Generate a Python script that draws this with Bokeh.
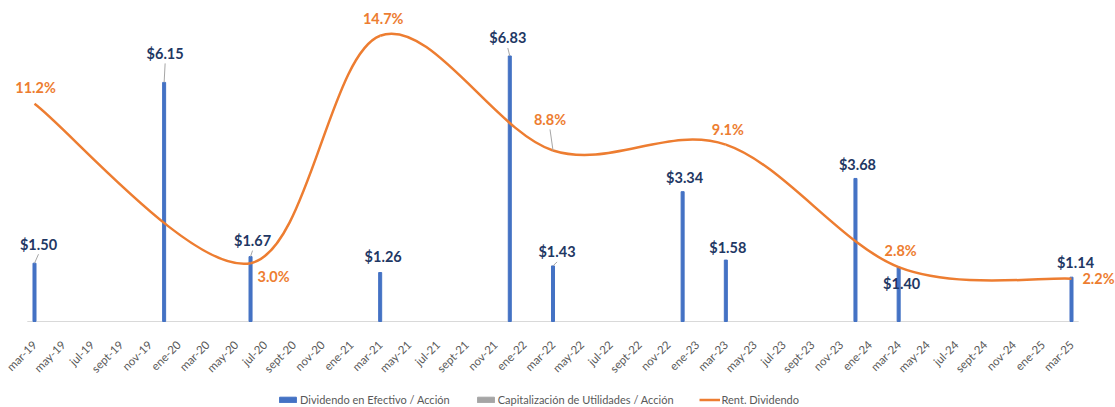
import math
from bokeh.plotting import figure
from bokeh.layouts import column
from bokeh.models import Range1d, FixedTicker, Legend, LegendItem
from bokeh.core.properties import value
from bokeh.embed import file_html
from bokeh.resources import INLINE

# ---------------- data ----------------
fechas_div = ["mar-19", "dic-19", "jun-20", "mar-21", "dic-21", "mar-22",
              "dic-22", "mar-23", "dic-23", "mar-24", "mar-25"]
dividendo = [1.50, 6.15, 1.67, 1.26, 6.83, 1.43, 3.34, 1.58, 3.68, 1.40, 1.14]

fechas_rent = ["mar-19", "jun-20", "mar-21", "mar-22", "mar-23", "mar-24", "mar-25"]
rent = [11.2, 3.0, 14.7, 8.8, 9.1, 2.8, 2.2]

tick_labels = ["mar-19", "may-19", "jul-19", "sept-19", "nov-19",
               "ene-20", "mar-20", "may-20", "jul-20", "sept-20", "nov-20",
               "ene-21", "mar-21", "may-21", "jul-21", "sept-21", "nov-21",
               "ene-22", "mar-22", "may-22", "jul-22", "sept-22", "nov-22",
               "ene-23", "mar-23", "may-23", "jul-23", "sept-23", "nov-23",
               "ene-24", "mar-24", "may-24", "jul-24", "sept-24", "nov-24",
               "ene-25", "mar-25"]

series_names = ["Dividendo en Efectivo / Acción",
                "Capitalización de Utilidades / Acción",
                "Rent. Dividendo"]

# ---------------- layout / style ----------------
meses = {"ene": 1, "feb": 2, "mar": 3, "abr": 4, "may": 5, "jun": 6, "jul": 7,
         "ago": 8, "sept": 9, "sep": 9, "oct": 10, "nov": 11, "dic": 12}


def month_index(s):
    m, y = s.split("-")
    return (2000 + int(y) - 2019) * 12 + meses[m] - 3


FONT = value("Lato")
BLUE = "#4472C4"
GRAY = "#A5A5A5"
ORANGE = "#ED7D31"
NAVY = "#1F3864"
GRAY_TXT = "#595959"

W = 1115
H_MAIN, H_LEG = 385, 22
BASE_PX = 321                   # baseline position from top
FIRST_PX, LAST_PX, SPAN_M = 34, 1071, 72
px_x = (LAST_PX - FIRST_PX) / SPAN_M
px_y = 38.875                   # px per $
px_p = 19.4375                  # px per %

X0 = -FIRST_PX / px_x
X1 = (W - FIRST_PX) / px_x

# label offsets in screen px (dx right, dy up)
div_off = [(4, 19), (1, 29), (2, 16), (3, 16), (-2, 18), (4, 14), (2, 14),
           (2, 13), (2, 14), (3, -16), (4, 15)]
div_leader = [True, True, True, False, True, True, False, False, False, False, False]
rent_off = [(1, 16), (23, -13), (3, 17), (-3, 31), (2, 15), (2, 17), (27, 0)]
rent_leader = [False, False, False, True, False, False, False]

xd = [month_index(s) for s in fechas_div]
xr = [month_index(s) for s in fechas_rent]

p = figure(width=W, height=H_MAIN, x_range=Range1d(X0, X1),
           y_range=Range1d(-1 / px_y, BASE_PX / px_y),
           output_backend="svg", toolbar_location=None, y_axis_location=None,
           min_border_left=0, min_border_right=0, min_border_top=0,
           min_border_bottom=H_MAIN - BASE_PX - 1)
p.extra_y_ranges = {"pct": Range1d(-1 / px_p, BASE_PX / px_p)}
p.xgrid.visible = False
p.ygrid.visible = False
p.outline_line_color = None
p.background_fill_color = "white"

# baseline (category axis span)
p.segment(x0=[-0.5], y0=[0], x1=[SPAN_M + 0.5], y1=[0], line_color="#D9D9D9", line_width=1)

# bars
p.vbar(x=xd, top=dividendo, width=0.21, color=BLUE)

# smoothed line (Excel-like Catmull-Rom bezier)
n = len(xr)
x0s, y0s, x1s, y1s, cx0, cy0, cx1, cy1 = ([] for _ in range(8))
for i in range(n - 1):
    ip = max(i - 1, 0)
    i2 = min(i + 2, n - 1)
    x0s.append(xr[i]); y0s.append(rent[i])
    x1s.append(xr[i + 1]); y1s.append(rent[i + 1])
    cx0.append(xr[i] + (xr[i + 1] - xr[ip]) / 6.0)
    cy0.append(rent[i] + (rent[i + 1] - rent[ip]) / 6.0)
    cx1.append(xr[i + 1] - (xr[i2] - xr[i]) / 6.0)
    cy1.append(rent[i + 1] - (rent[i2] - rent[i]) / 6.0)
p.bezier(x0=x0s, y0=y0s, x1=x1s, y1=y1s, cx0=cx0, cy0=cy0, cx1=cx1, cy1=cy1,
         line_color=ORANGE, line_width=2.5, y_range_name="pct")

# leader lines
lx0, ly0, lx1, ly1 = [], [], [], []
for xi, v, (dx, dy), f in zip(xd, dividendo, div_off, div_leader):
    if f:
        lx0.append(xi); ly0.append(v)
        lx1.append(xi + dx / px_x); ly1.append(v + (dy - 10) / px_y)
p.segment(x0=lx0, y0=ly0, x1=lx1, y1=ly1, line_color="#A6A6A6", line_width=1)
lx0, ly0, lx1, ly1 = [], [], [], []
for xi, v, (dx, dy), f in zip(xr, rent, rent_off, rent_leader):
    if f:
        lx0.append(xi); ly0.append(v)
        lx1.append(xi + dx / px_x); ly1.append(v + (dy - 10) / px_p)
p.segment(x0=lx0, y0=ly0, x1=lx1, y1=ly1, line_color="#A6A6A6", line_width=1,
          y_range_name="pct")

# data labels
p.text(x=[xi + dx / px_x for xi, (dx, dy) in zip(xd, div_off)],
       y=[v + dy / px_y for v, (dx, dy) in zip(dividendo, div_off)],
       text=[f"${v:.2f}" for v in dividendo],
       text_align="center", text_baseline="middle", text_font=FONT,
       text_font_style="bold", text_font_size="14.5px", text_color=NAVY)
p.text(x=[xi + dx / px_x for xi, (dx, dy) in zip(xr, rent_off)],
       y=[v + dy / px_p for v, (dx, dy) in zip(rent, rent_off)],
       text=[f"{v:.1f}%" for v in rent],
       text_align="center", text_baseline="middle", text_font=FONT,
       text_font_style="bold", text_font_size="14.5px", text_color=ORANGE,
       y_range_name="pct")

# x axis (labels only)
ticks = list(range(0, SPAN_M + 1, 2))
ax = p.xaxis[0]
ax.ticker = FixedTicker(ticks=ticks)
ax.major_label_overrides = {t: lab for t, lab in zip(ticks, tick_labels)}
ax.major_label_orientation = math.pi / 4
ax.major_tick_line_color = None
ax.minor_tick_line_color = None
ax.axis_line_color = None
ax.major_label_text_font = "Lato"
ax.major_label_text_font_size = "11.5px"
ax.major_label_text_color = GRAY_TXT
ax.major_label_standoff = 14

# ---------------- legend strip ----------------
pl = figure(width=W, height=H_LEG, x_range=Range1d(0, 1), y_range=Range1d(0, 1),
            output_backend="svg", toolbar_location=None,
            x_axis_location=None, y_axis_location=None,
            min_border_left=0, min_border_right=0, min_border_top=0, min_border_bottom=0)
pl.xgrid.visible = False
pl.ygrid.visible = False
pl.outline_line_color = None
nan = float("nan")
r1 = pl.vbar(x=[nan], top=[nan], width=0.1, color=BLUE)
r2 = pl.vbar(x=[nan], top=[nan], width=0.1, color=GRAY)
r3 = pl.line(x=[nan, nan], y=[nan, nan], line_color=ORANGE, line_width=2.5)
legend = Legend(items=[LegendItem(label=series_names[0], renderers=[r1]),
                       LegendItem(label=series_names[1], renderers=[r2]),
                       LegendItem(label=series_names[2], renderers=[r3])],
                orientation="horizontal", location=(277, 1),
                glyph_width=21, glyph_height=7, label_standoff=2, spacing=25,
                padding=0, margin=0, border_line_color=None, background_fill_alpha=0,
                label_text_font="Lato", label_text_font_size="11px",
                label_text_color=GRAY_TXT, label_height=14)
pl.add_layout(legend, "center")

layout = column(p, pl, spacing=0)
open("out.html", "w").write(file_html(layout, INLINE))
